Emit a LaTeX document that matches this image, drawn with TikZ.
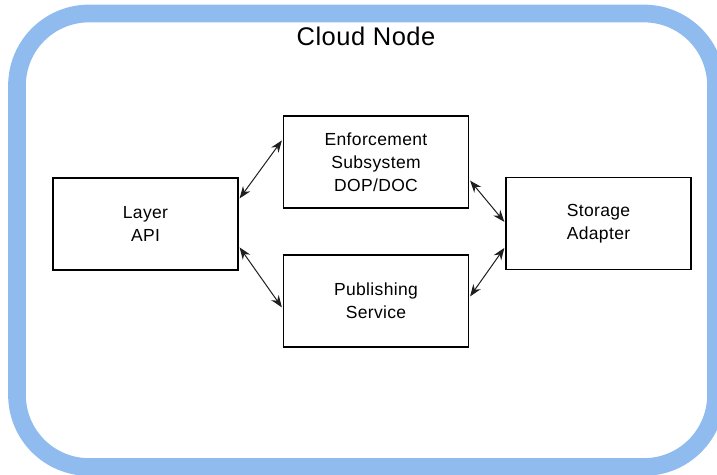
\documentclass[tikz,border=0pt]{standalone}
\usepackage{fontspec}
\setmainfont{Liberation Sans}[LetterSpace=2]
\usetikzlibrary{arrows.meta,calc}
\definecolor{cloudblue}{RGB}{143,187,238}
\definecolor{arrowgray}{RGB}{30,30,30}
\begin{document}
\begin{tikzpicture}[x=1pt,y=-1pt,
  blockbox/.style={draw=black,line width=1.2pt,minimum width=185pt,minimum height=92pt,inner sep=0pt,align=center,
    font=\fontsize{17.5}{23}\selectfont},
  biarrow/.style={draw=arrowgray,line width=1pt,{Stealth[length=12pt,width=9pt]}-{Stealth[length=12pt,width=9pt]}}]
\useasboundingbox (0,0) rectangle (717,474);
\draw[cloudblue,line width=17.7pt,rounded corners=72pt] (17,13.5) rectangle (716,467);
\node[anchor=base,font=\fontsize{25.5}{28}\selectfont] (title) at (366,45) {Cloud Node};
\node[blockbox] (layer) at (145.5,224) {Layer\\API};
\node[blockbox] (enf) at (376,162) {Enforcement\\Subsystem\\DOP/DOC};
\node[blockbox] (pub) at (376,301) {Publishing\\Service};
\node[blockbox] (stor) at (598.5,223.5) {Storage\\Adapter};
\draw[biarrow] ($(layer.north east)+(1,21)$) -- ($(enf.north west)+(-1,25)$);
\draw[biarrow] ($(enf.south east)+(1,-28)$) -- ($(stor.north west)+(-1,45)$);
\draw[biarrow] ($(stor.north west)+(-1,71)$) -- ($(pub.north east)+(1,42)$);
\draw[biarrow] ($(layer.north east)+(1,70)$) -- ($(pub.north west)+(-1,53)$);
\end{tikzpicture}
\end{document}
